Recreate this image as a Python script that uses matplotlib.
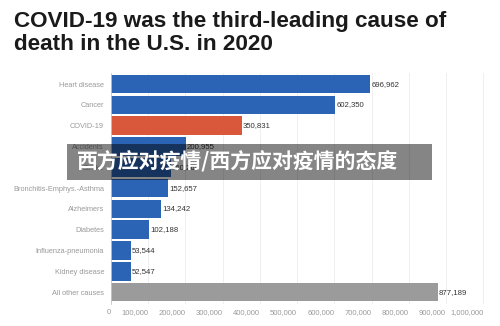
import matplotlib.pyplot as plt
from matplotlib.patches import Rectangle
from matplotlib.ticker import FuncFormatter

plt.rcParams['font.family'] = ['Liberation Sans', 'DejaVu Sans']

# Leading causes of death in the U.S., 2020
causes = ["Heart disease", "Cancer", "COVID-19", "Accidents", "Stroke",
          "Bronchitis-Emphys.-Asthma", "Alzheimers", "Diabetes",
          "Influenza-pneumonia", "Kidney disease", "All other causes"]
deaths = [696962, 602350, 350831, 200955, 160264, 152657,
          134242, 102188, 53544, 52547, 877189]
x_ticks = [0, 100000, 200000, 300000, 400000, 500000,
           600000, 700000, 800000, 900000, 1000000]

blue = "#2B63B5"
orange = "#D9573A"
grey = "#9B9B9B"
colors = [orange if c == "COVID-19" else grey if c == "All other causes" else blue
          for c in causes]

fig = plt.figure(figsize=(5, 3.26), dpi=100)
ax = fig.add_axes([0.222, 0.069, 0.752, 0.708])

pos = list(range(len(causes)))
ax.barh(pos, deaths, height=0.9, color=colors, zorder=2)
for p, v in zip(pos, deaths):
    ax.text(v + 3000, p, f"{v:,}", va="center", ha="left",
            fontsize=5.6, color="#333333", zorder=3)

ax.set_ylim(10.55, -0.55)
ax.set_xlim(0, 1010000)
ax.set_yticks(pos)
ax.set_yticklabels(causes, fontsize=5.3, color="#9a9a9a")
ax.set_xticks(x_ticks)
ax.xaxis.set_major_formatter(FuncFormatter(lambda v, _: f"{int(v):,}"))
for lab in ax.get_xticklabels():
    lab.set_fontsize(5.5)
    lab.set_color("#9a9a9a")
    lab.set_horizontalalignment("right")
ax.tick_params(axis="both", length=0, pad=5)
ax.tick_params(axis="x", pad=4)
ax.grid(axis="x", color="#ececec", linewidth=0.6, zorder=0)
for s in ["top", "right", "bottom"]:
    ax.spines[s].set_visible(False)
ax.spines["left"].set_color("#c8c8c8")
ax.spines["left"].set_linewidth(0.6)

fig.text(0.028, 0.965, "COVID-19 was the third-leading cause of\ndeath in the U.S. in 2020",
         fontsize=16.2, fontweight="bold",
         color="#1a1a1a", va="top", ha="left", linespacing=1.1)

# watermark band
fig.patches.append(Rectangle((67 / 500, 1 - 180 / 326), 365 / 500, 36 / 326,
                             transform=fig.transFigure, facecolor="black",
                             alpha=0.48, zorder=5))
fig.text(77 / 500, 1 - 162 / 326, "西方应对疫情/西方应对疫情的态度",
         fontsize=15, fontweight="bold", color="white",
         family=["Noto Sans CJK SC", "DejaVu Sans"],
         va="center", ha="left", zorder=6)

fig.savefig("out.png", dpi=100)
